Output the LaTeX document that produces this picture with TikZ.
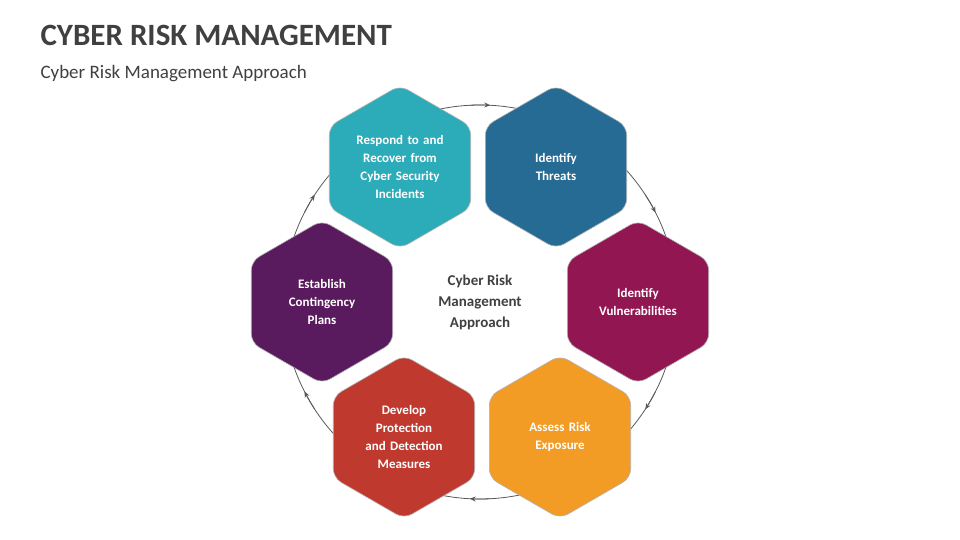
\documentclass[tikz,border=0pt]{standalone}
\usepackage{fontspec}
\setmainfont{Carlito}
\usetikzlibrary{shapes.geometric,arrows.meta}
\definecolor{ink}{HTML}{404040}
\definecolor{ring}{HTML}{595959}
\definecolor{hexteal}{HTML}{2BACB8}
\definecolor{hexblue}{HTML}{266B94}
\definecolor{hexplum}{HTML}{921652}
\definecolor{hexorange}{HTML}{F29C26}
\definecolor{hexred}{HTML}{C0392F}
\definecolor{hexpurple}{HTML}{5A1A5E}
\tikzset{
  hexbox/.style={regular polygon, regular polygon sides=6, shape border rotate=30,
    minimum size=162pt, inner sep=0pt, rounded corners=9pt, draw=white!70!black, line width=0.6pt,
    fill=#1, text=white, font=\fontsize{13}{18}\selectfont\bfseries, align=center, text width=100pt},
  ringarrow/.style={-{Stealth[length=6pt,width=5pt]}, ring, line width=0.8pt}
}
\begin{document}
\begin{tikzpicture}[x=1pt,y=-1pt]
\useasboundingbox (0,0) rectangle (960,540);
\node[anchor=west, text=ink, font=\fontsize{31}{36}\selectfont\bfseries] (title) at (37,35) {CYBER RISK MANAGEMENT};
\node[anchor=west, text=ink, font=\fontsize{19}{22}\selectfont] (subtitle) at (37,74) {Cyber Risk Management Approach};

\coordinate (hub) at (480,302);
\draw[ring, line width=0.8pt] (hub) circle[radius=197];
% arrows on the ring, clockwise
\foreach \a in {90,30,-30,-90,-150,150}
  \draw[ringarrow] ([shift={(\a+3:197 and -197)}]hub) arc[start angle=\a+3, end angle=\a-3, x radius=197, y radius=-197];

\node[hexbox=hexteal] (respond) at ([shift={(-80,-135)}]hub) {Respond to and\\Recover from\\Cyber Security\\Incidents};
\node[hexbox=hexblue] (threats) at ([shift={(76,-135)}]hub) {Identify\\Threats};
\node[hexbox=hexplum] (vulner) at ([shift={(158,0)}]hub) {Identify\\Vulnerabilities};
\node[hexbox=hexorange] (assess) at ([shift={(80,135)}]hub) {Assess Risk\\Exposure};
\node[hexbox=hexred] (develop) at ([shift={(-76,135)}]hub) {Develop Protection\\and Detection\\Measures};
\node[hexbox=hexpurple] (plans) at ([shift={(-158,0)}]hub) {Establish\\Contingency\\Plans};

\node[text=ink, font=\fontsize{15}{21}\selectfont\bfseries, align=center] (core) at (hub) {Cyber Risk\\Management\\Approach};
\end{tikzpicture}
\end{document}
